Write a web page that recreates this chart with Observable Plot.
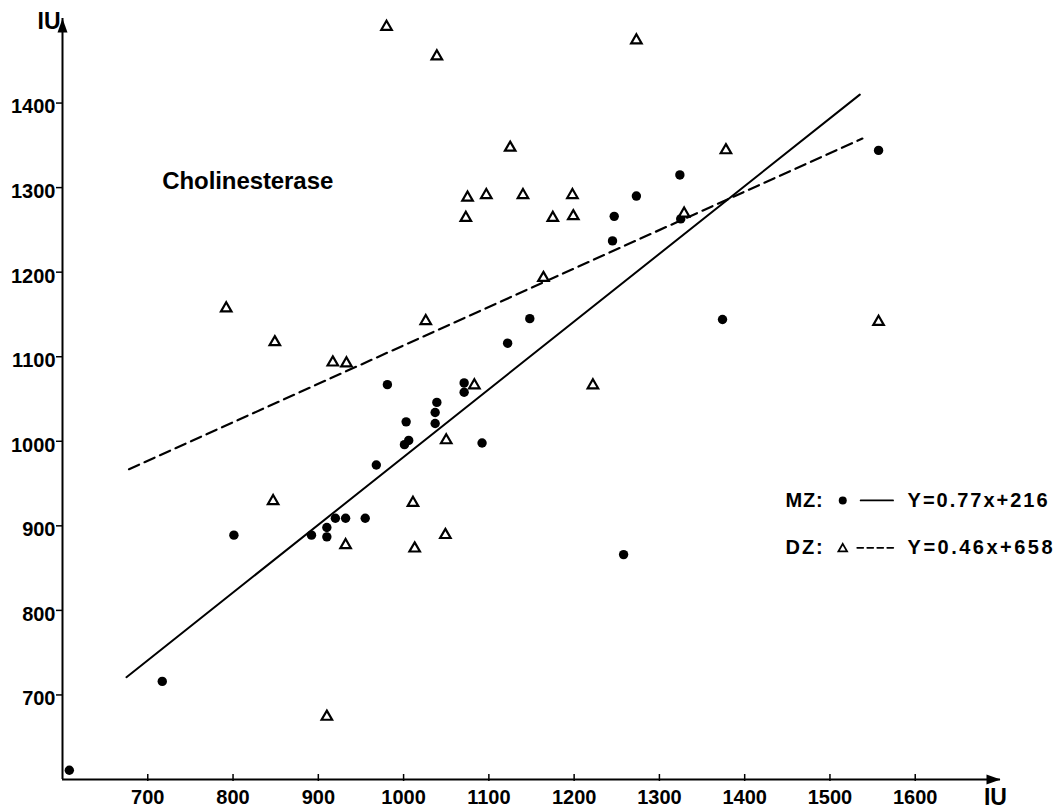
<!DOCTYPE html>
<html><head><meta charset="utf-8">
<script src="https://cdn.jsdelivr.net/npm/d3@7"></script>
<script src="https://cdn.jsdelivr.net/npm/@observablehq/plot@0.6"></script>
<style>body{margin:0;background:#fff}</style>
</head><body><div id="chart"></div>
<script>
// MZ twins (filled dots)
const mzX = [608, 717, 801, 892, 910, 910, 920, 932, 955, 968, 981, 1001, 1006, 1003, 1037, 1037, 1039, 1071, 1071, 1092, 1122, 1148, 1245, 1247, 1258, 1273, 1325, 1324, 1374, 1557];
const mzY = [611, 716, 889, 889, 898, 887, 909, 909, 909, 972, 1067, 996, 1001, 1023, 1021, 1034, 1046, 1058, 1069, 998, 1116, 1145, 1237, 1266, 866, 1290, 1263, 1315, 1144, 1344];
// DZ twins (open triangles)
const dzX = [792, 849, 917, 933, 847, 910, 932, 980, 1039, 1273, 1125, 1075, 1097, 1140, 1198, 1073, 1175, 1199, 1329, 1164, 1378, 1026, 1083, 1222, 1557, 1050, 1011, 1049, 1013];
const dzY = [1159, 1119, 1095, 1094, 931, 676, 879, 1492, 1457, 1476, 1349, 1290, 1293, 1293, 1293, 1266, 1266, 1268, 1271, 1195, 1346, 1144, 1068, 1068, 1143, 1003, 929, 891, 875];
// regression lines as drawn
const mzLineX = [675, 1535], mzLineY = [721, 1410];
const dzLineX = [678, 1538], dzLineY = [967, 1358];
// ticks
const xTicks = [700, 800, 900, 1000, 1100, 1200, 1300, 1400, 1500, 1600];
const yTicks = [700, 800, 900, 1000, 1100, 1200, 1300, 1400];
const titleText = "Cholinesterase";
const unitLabel = "IU";
const legendGroups = ["MZ:", "DZ:"];
const legendEquations = ["Y=0.77x+216", "Y=0.46x+658"];

const mz = mzX.map((x, i) => ({x, y: mzY[i]}));
const dz = dzX.map((x, i) => ({x, y: dzY[i]}));
const mzLine = mzLineX.map((x, i) => ({x, y: mzLineY[i]}));
const dzLine = dzLineX.map((x, i) => ({x, y: dzLineY[i]}));

const arrowUp = {draw(ctx) { ctx.moveTo(0, 0); ctx.lineTo(5, 14); ctx.lineTo(-5, 14); ctx.closePath(); }};
const arrowRight = {draw(ctx) { ctx.moveTo(0, 0); ctx.lineTo(-14, 5); ctx.lineTo(-14, -5); ctx.closePath(); }};

const F = "'Liberation Sans', Arial, sans-serif";

const chart = Plot.plot({
  width: 1061, height: 809,
  marginLeft: 62, marginRight: 61, marginTop: 18, marginBottom: 30,
  x: {domain: [600, 1700], axis: null},
  y: {domain: [600, 1500], axis: null},
  style: {fontFamily: F, background: "white", color: "black"},
  marks: [
    // axes
    Plot.ruleX([600], {y1: 600, y2: 1500, stroke: "black", strokeWidth: 2}),
    Plot.ruleY([600], {x1: 600, x2: 1700, stroke: "black", strokeWidth: 2}),
    Plot.dot([0], {x: 600, y: 1500, symbol: arrowUp, fill: "black", stroke: "none"}),
    Plot.dot([0], {x: 1700, y: 600, symbol: arrowRight, fill: "black", stroke: "none"}),
    Plot.ruleX(xTicks, {x: d => d, y1: 600, y2: 600, insetTop: -5, insetBottom: -2, stroke: "black", strokeWidth: 1.5}),
    Plot.ruleY(yTicks, {y: d => d, x1: 600, x2: 600, insetLeft: -6, insetRight: -1, stroke: "black", strokeWidth: 1.5}),
    Plot.text(xTicks, {x: d => d, y: 600, dy: 18, text: d => String(d), fontSize: 20, fontWeight: "bold", textAnchor: "middle"}),
    Plot.text(yTicks, {x: 600, y: d => d, dx: -7, dy: 4, text: d => String(d), fontSize: 20, fontWeight: "bold", textAnchor: "end"}),
    Plot.text([unitLabel], {x: 600, y: 1496, dx: -2, text: d => d, fontSize: 23, fontWeight: "bold", textAnchor: "end"}),
    Plot.text([unitLabel], {x: 1694, y: 600, dy: 18, text: d => d, fontSize: 23, fontWeight: "bold", textAnchor: "middle"}),
    // title
    Plot.text([titleText], {x: 717, y: 1307, text: d => d, fontSize: 24, fontWeight: "bold", textAnchor: "start"}),
    // regression lines
    Plot.line(mzLine, {x: "x", y: "y", stroke: "black", strokeWidth: 2}),
    Plot.line(dzLine, {x: "x", y: "y", stroke: "black", strokeWidth: 2.2, strokeDasharray: "11,6"}),
    // points
    Plot.dot(mz, {x: "x", y: "y", r: 4.7, fill: "black", stroke: "none"}),
    Plot.dot(dz, {x: "x", y: "y", dy: 1.5, symbol: "triangle", r: 3.9, stroke: "black", strokeWidth: 2.2, fill: "white"}),
    // legend
    Plot.text([legendGroups[0]], {x: 1448, y: 930, text: d => d, fontSize: 20, fontWeight: "bold", textAnchor: "start"}),
    Plot.text([legendGroups[1]], {x: 1448, y: 874, text: d => d, fontSize: 20, fontWeight: "bold", textAnchor: "start"}),
    Plot.dot([0], {x: 1515, y: 930, r: 4, fill: "black", stroke: "none"}),
    Plot.dot([0], {x: 1515, y: 874, dy: 1, symbol: "triangle", r: 3.2, stroke: "black", strokeWidth: 1.8, fill: "white"}),
    Plot.line([{x: 1536, y: 930}, {x: 1574, y: 930}], {x: "x", y: "y", stroke: "black", strokeWidth: 1.8}),
    Plot.line([{x: 1532, y: 874}, {x: 1577, y: 874}], {x: "x", y: "y", stroke: "black", strokeWidth: 1.8, strokeDasharray: "6,4"}),
    Plot.text([legendEquations[0]], {x: 1591, y: 930, text: d => d, fontSize: 20, fontWeight: "bold", textAnchor: "start"}),
    Plot.text([legendEquations[1]], {x: 1591, y: 874, text: d => d, fontSize: 20, fontWeight: "bold", textAnchor: "start"})
  ]
});
const svg = d3.select(chart);
svg.selectAll("text").filter(function() { return this.textContent === legendEquations[0]; }).attr("textLength", 140).attr("lengthAdjust", "spacing");
svg.selectAll("text").filter(function() { return this.textContent === legendEquations[1]; }).attr("textLength", 145).attr("lengthAdjust", "spacing");
svg.selectAll("text").filter(function() { return this.textContent === legendGroups[0] || this.textContent === legendGroups[1]; }).attr("textLength", 37).attr("lengthAdjust", "spacing");
svg.selectAll("text").filter(function() { return this.textContent === titleText; }).attr("textLength", 171).attr("lengthAdjust", "spacing");
document.getElementById("chart").appendChild(chart);
</script>
</body></html>
